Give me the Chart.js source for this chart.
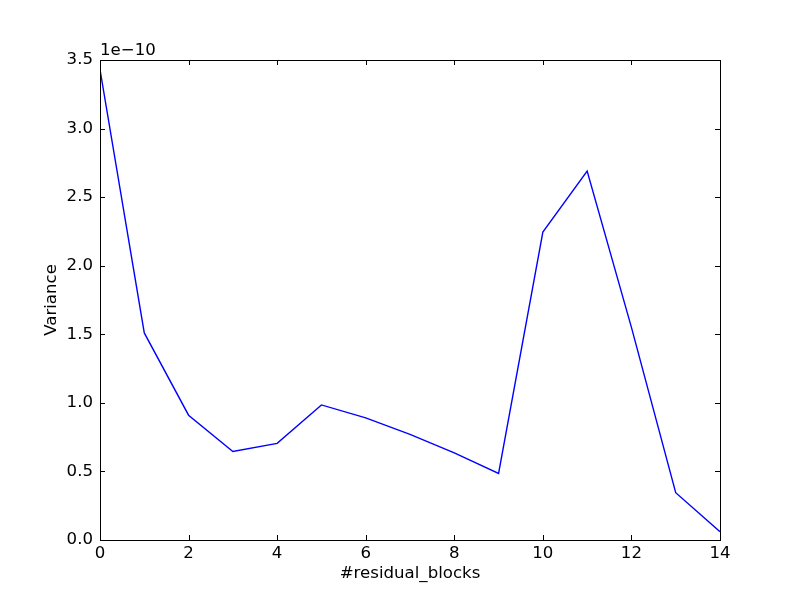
<!DOCTYPE html>
<html lang="en">
<head>
    <meta charset="UTF-8">
    <title>Variance vs residual blocks</title>
    <script src="https://cdn.jsdelivr.net/npm/chart.js"></script>
    <style>
        body {
            margin: 0;
            background-color: #ffffff;
        }
        canvas {
            display: block;
        }
    </style>
</head>
<body>

    <canvas id="varianceChart" width="800" height="600"></canvas>

    <script>
        // values, in units of 1e-10
        const blocks = [0, 1, 2, 3, 4, 5, 6, 7, 8, 9, 10, 11, 12, 13, 14];
        const variance = [3.43, 1.51, 0.91, 0.645, 0.705, 0.985, 0.89, 0.77, 0.635, 0.485, 2.245, 2.69, 1.55, 0.345, 0.06];
        const offsetLabel = '1e\u221210';

        const FONT_SIZE = 16.6;
        const FONT = FONT_SIZE + 'px "DejaVu Sans", sans-serif';

        // matplotlib classic look: box on all sides, ticks pointing inward
        const boxPlugin = {
            id: 'box',
            afterDraw(chart) {
                const c = chart.ctx;
                const a = chart.chartArea;
                const xs = chart.scales.x;
                const ys = chart.scales.y;
                const len = 5;
                c.save();
                c.strokeStyle = '#000';
                c.lineWidth = 1;
                c.beginPath();
                xs.ticks.forEach(t => {
                    const px = Math.round(xs.getPixelForValue(t.value)) + 0.5;
                    c.moveTo(px, a.bottom);
                    c.lineTo(px, a.bottom - len);
                    c.moveTo(px, a.top);
                    c.lineTo(px, a.top + len);
                });
                ys.ticks.forEach(t => {
                    const py = Math.round(ys.getPixelForValue(t.value)) + 0.5;
                    c.moveTo(a.left, py);
                    c.lineTo(a.left + len, py);
                    c.moveTo(a.right, py);
                    c.lineTo(a.right - len, py);
                });
                c.stroke();
                c.strokeRect(Math.round(a.left) + 0.5, Math.round(a.top) + 0.5,
                    Math.round(a.right - a.left), Math.round(a.bottom - a.top));

                c.fillStyle = '#000';
                c.font = FONT;
                c.textAlign = 'center';
                c.textBaseline = 'middle';
                c.fillText('#residual_blocks', (a.left + a.right) / 2, 574);
                c.translate(52, (a.top + a.bottom) / 2);
                c.rotate(-Math.PI / 2);
                c.fillText('Variance', 0, 0);
                c.restore();

                c.save();
                c.fillStyle = '#000';
                c.font = FONT;
                c.textAlign = 'left';
                c.textBaseline = 'alphabetic';
                c.fillText(offsetLabel, a.left, a.top - 5);
                c.restore();
            }
        };

        const ctx = document.getElementById('varianceChart').getContext('2d');

        new Chart(ctx, {
            type: 'line',
            data: {
                datasets: [{
                    data: blocks.map((b, i) => ({ x: b, y: variance[i] })),
                    borderColor: '#0000ff',
                    borderWidth: 1.4,
                    pointRadius: 0,
                    fill: false,
                    tension: 0
                }]
            },
            options: {
                responsive: false,
                animation: false,
                layout: {
                    padding: { top: 60, right: 80, left: 0, bottom: 0 }
                },
                plugins: {
                    legend: { display: false },
                    tooltip: { enabled: false }
                },
                scales: {
                    x: {
                        type: 'linear',
                        min: 0,
                        max: 14,
                        grid: { display: false, drawTicks: false },
                        border: { display: false },
                        ticks: {
                            stepSize: 2,
                            color: '#000',
                            padding: 4,
                            maxRotation: 0,
                            font: { family: '"DejaVu Sans", sans-serif', size: FONT_SIZE }
                        },
                        afterFit(scale) { scale.height = 60; }
                    },
                    y: {
                        min: 0,
                        max: 3.5,
                        grid: { display: false, drawTicks: false },
                        border: { display: false },
                        ticks: {
                            stepSize: 0.5,
                            color: '#000',
                            padding: 7,
                            font: { family: '"DejaVu Sans", sans-serif', size: FONT_SIZE },
                            callback: v => v.toFixed(1)
                        },
                        afterFit(scale) { scale.width = 100; }
                    }
                }
            },
            plugins: [boxPlugin]
        });
    </script>

</body>
</html>
